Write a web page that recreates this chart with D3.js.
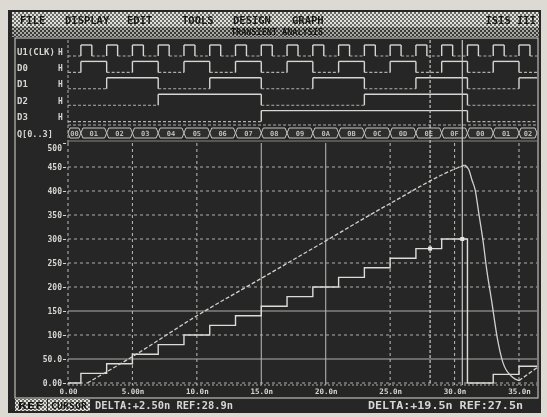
<!DOCTYPE html>
<html>
<head>
<meta charset="utf-8">
<script src="https://cdn.jsdelivr.net/npm/d3@7"></script>
<style>
    html, body { margin: 0; padding: 0; background: #dcdad2; }
    svg { display: block; }
</style>
</head>
<body>
<div id="screen"></div>
<script>

var menuItems = ["FILE", "DISPLAY", "EDIT", "TOOLS", "DESIGN", "GRAPH"];
var productName = "ISIS III";
var graphTitle = "TRANSIENT ANALYSIS";

var digitalNames = ["U1(CLK)", "D0", "D1", "D2", "D3"];
var digitalStates = ["H", "H", "H", "H", "H"];
var busName = "Q[0..3]";

// clock rising edges and pulse width, ns
var clockRiseNs = [1, 3, 5, 7, 9, 11, 13, 15, 17, 19, 21, 23, 25, 27, 29, 31, 33, 35];
var clockHighNs = 0.85;

// counter output Q[0..3] and the DAC staircase it drives
var countTimesNs = [0, 1, 3, 5, 7, 9, 11, 13, 15, 17, 19, 21, 23, 25, 27, 29, 31, 33, 35];
var countValues = [0, 1, 2, 3, 4, 5, 6, 7, 8, 9, 10, 11, 12, 13, 14, 15, 0, 1, 2];
var dacLevels = [0, 20, 40, 60, 80, 100, 120, 140, 160, 180, 200, 220, 240, 260, 280, 300, 0, 18, 35];

// ramp trace
var rampTimesNs = [1.5, 5, 10, 15, 20, 25, 30.4, 30.8, 31.1, 31.35, 31.6, 31.9, 32.2, 32.5, 32.9, 33.3, 33.76, 34.5, 35.0, 36.4];
var rampLevels = [0, 55, 140, 218, 296, 374, 450, 454, 445, 423, 402, 350, 298, 235, 167, 96, 42, 12, 5, 32];

var xTickValues = [0, 5, 10, 15, 20, 25, 30, 35];
var xTickLabels = ["0.00", "5.00n", "10.0n", "15.0n", "20.0n", "25.0n", "30.0n", "35.0n"];
var yTickValues = [0, 50, 100, 150, 200, 250, 300, 350, 400, 450, 500];
var yTickLabels = ["0.00", "50.0", "100", "150", "200", "250", "300", "350", "400", "450", "500"];

var cursorTimesNs = [28.1, 30.6];
var statusButtons = ["REF", "CURSOR"];
var statusLeft = "DELTA:+2.50n REF:28.9n";
var statusRight = "DELTA:+19.5n REF:27.5n";


function AnalyzerScreen() {

    var self = this;

    var font = "'DejaVu Sans Mono', monospace";
    var ink = "#d6d6d2";
    var grid = "#b0b0ac";

    self.x = d3.scaleLinear().domain([0, 35]).range([68, 519]);
    self.tEnd = self.x.invert(537);
    self.y = d3.scaleLinear().domain([0, 500]).range([383, 143]);
    self.rows = d3.scalePoint().domain(digitalNames.concat([busName])).range([51, 133]);

    self.init = function (containerId) {

        var svg = d3.select("#" + containerId).append("svg")
            .attr("width", 547)
            .attr("height", 417);

        var defs = svg.append("defs");
        self.addDither(defs, "ditherLight", "#e2e2dc", "#6a6a66");
        self.addDither(defs, "ditherDark", "#a8a8a4", "#3a3a38");

        defs.append("filter")
            .attr("id", "soft")
            .append("feGaussianBlur")
            .attr("stdDeviation", 0.35);

        var root = svg.append("g").attr("filter", "url(#soft)");

        self.drawFrame(root);
        self.drawMenu(root);
        self.drawDigital(root);
        self.drawAnalog(root);
        self.drawStatus(root);
    };

    self.addDither = function (defs, id, a, b) {
        var p = defs.append("pattern")
            .attr("id", id)
            .attr("width", 4)
            .attr("height", 4)
            .attr("patternUnits", "userSpaceOnUse");
        p.append("rect").attr("width", 4).attr("height", 4).attr("fill", b);
        p.append("rect").attr("width", 2).attr("height", 2).attr("fill", a);
        p.append("rect").attr("x", 2).attr("y", 2).attr("width", 2).attr("height", 2).attr("fill", a);
    };

    self.drawFrame = function (svg) {
        svg.append("rect")
            .attr("x", 8).attr("y", 10)
            .attr("width", 533).attr("height", 403)
            .attr("fill", "#252525");

        svg.append("rect")
            .attr("x", 15).attr("y", 38)
            .attr("width", 523).attr("height", 360)
            .attr("fill", "none")
            .attr("stroke", "#bdbdb8")
            .attr("stroke-width", 1.2);
    };

    self.drawMenu = function (svg) {
        svg.append("rect")
            .attr("x", 12).attr("y", 12)
            .attr("width", 527).attr("height", 15)
            .attr("fill", "url(#ditherLight)");
        svg.append("rect")
            .attr("x", 12).attr("y", 27)
            .attr("width", 527).attr("height", 10)
            .attr("fill", "url(#ditherDark)");

        var menuX = [20, 65, 127, 182, 233, 292];

        svg.selectAll(".menu")
            .data(menuItems)
            .enter()
            .append("text")
            .attr("class", "menu")
            .attr("x", function (d, i) { return menuX[i]; })
            .attr("y", 23.5)
            .style("font", "bold 10.5px " + font)
            .style("fill", "#151515")
            .text(function (d) { return d; });

        svg.append("text")
            .attr("x", 536).attr("y", 23.5)
            .attr("text-anchor", "end")
            .style("font", "bold 10.5px " + font)
            .style("fill", "#151515")
            .text(productName);

        svg.append("text")
            .attr("x", 277).attr("y", 35)
            .attr("text-anchor", "middle")
            .style("font", "bold 8.5px " + font)
            .style("fill", "#151515")
            .text(graphTitle);
    };

    self.levelSegments = function (times, levels) {
        var segs = [];
        for (var i = 0; i < times.length; i++) {
            if (times[i] >= self.tEnd) break;
            var t1 = i + 1 < times.length ? Math.min(times[i + 1], self.tEnd) : self.tEnd;
            var last = segs[segs.length - 1];
            if (last && last.level === levels[i]) {
                last.t1 = t1;
            } else {
                segs.push({t0: times[i], t1: t1, level: levels[i]});
            }
        }
        return segs;
    };

    self.clockSegments = function () {
        var times = [0];
        var levels = [0];
        clockRiseNs.forEach(function (r) {
            times.push(r, r + clockHighNs);
            levels.push(1, 0);
        });
        return self.levelSegments(times, levels);
    };

    self.drawDigital = function (svg) {

        var x = self.x;
        var g = svg.append("g");

        // left edge of trace area
        g.append("line")
            .attr("x1", x(0)).attr("x2", x(0))
            .attr("y1", 40).attr("y2", 143)
            .attr("stroke", grid)
            .attr("stroke-dasharray", "3,2");

        digitalNames.forEach(function (name, bit) {

            var cy = self.rows(name);
            var yHi = cy - 6;
            var yLo = cy + 5;

            var segs = bit === 0
                ? self.clockSegments()
                : self.levelSegments(countTimesNs, countValues.map(function (v) { return (v >> (bit - 1)) & 1; }));

            g.append("text")
                .attr("x", 17).attr("y", cy + 3.5)
                .style("font", "bold 9px " + font)
                .style("fill", ink)
                .text(name);

            g.append("text")
                .attr("x", 58).attr("y", cy + 3.5)
                .style("font", "bold 8px " + font)
                .style("fill", ink)
                .text(digitalStates[bit]);

            g.selectAll(null)
                .data(segs)
                .enter()
                .append("line")
                .attr("x1", function (d) { return x(d.t0); })
                .attr("x2", function (d) { return x(d.t1); })
                .attr("y1", function (d) { return d.level ? yHi : yLo; })
                .attr("y2", function (d) { return d.level ? yHi : yLo; })
                .attr("stroke", function (d) { return d.level ? ink : grid; })
                .attr("stroke-width", function (d) { return d.level ? 1.4 : 1.1; })
                .attr("stroke-dasharray", function (d) { return d.level ? null : "3,2"; });

            g.selectAll(null)
                .data(segs.slice(1))
                .enter()
                .append("line")
                .attr("x1", function (d) { return x(d.t0); })
                .attr("x2", function (d) { return x(d.t0); })
                .attr("y1", yHi).attr("y2", yLo)
                .attr("stroke", ink)
                .attr("stroke-width", 1.4);
        });

        // bus row
        var by = self.rows(busName);
        var top = by - 5, bot = by + 5;

        g.append("text")
            .attr("x", 17).attr("y", by + 3.5)
            .style("font", "bold 8.5px " + font)
            .style("fill", ink)
            .text(busName);

        g.append("line")
            .attr("x1", x(0)).attr("x2", 537)
            .attr("y1", top - 3).attr("y2", top - 3)
            .attr("stroke", grid)
            .attr("stroke-dasharray", "3,2");

        var busSegs = self.levelSegments(countTimesNs, countValues);

        var bus = g.selectAll(".bus")
            .data(busSegs)
            .enter()
            .append("g")
            .attr("class", "bus");

        bus.append("path")
            .attr("d", function (d) {
                var x0 = x(d.t0), x1 = x(d.t1);
                var k = Math.min(2, (x1 - x0) / 2);
                return "M" + x0 + "," + by + "L" + (x0 + k) + "," + top + "L" + (x1 - k) + "," + top +
                    "L" + x1 + "," + by + "L" + (x1 - k) + "," + bot + "L" + (x0 + k) + "," + bot + "Z";
            })
            .attr("fill", "#2e2e2d")
            .attr("stroke", "#c4c4c0")
            .attr("stroke-width", 1);

        bus.filter(function (d) { return x(d.t1) - x(d.t0) > 12; })
            .append("text")
            .attr("x", function (d) { return (x(d.t0) + x(d.t1)) / 2; })
            .attr("y", by + 2.5)
            .attr("text-anchor", "middle")
            .style("font", "bold 7px " + font)
            .style("fill", "#bcbcb8")
            .text(function (d) { return "0" + d.level.toString(16).toUpperCase(); });

        g.append("line")
            .attr("x1", x(0)).attr("x2", 537)
            .attr("y1", bot + 3).attr("y2", bot + 3)
            .attr("stroke", "#8a8a86");
    };

    self.drawAnalog = function (svg) {

        var x = self.x, y = self.y;
        var g = svg.append("g");

        var solidY = [50, 150];
        var solidX = [15, 20];

        g.selectAll(".hgrid")
            .data(yTickValues.slice(0, -1))
            .enter()
            .append("line")
            .attr("class", "hgrid")
            .attr("x1", x(0)).attr("x2", 537)
            .attr("y1", function (d) { return y(d); })
            .attr("y2", function (d) { return y(d); })
            .attr("stroke", grid)
            .attr("stroke-width", 1.1)
            .attr("stroke-dasharray", function (d) { return solidY.indexOf(d) >= 0 ? null : "3,3"; });

        g.selectAll(".vgrid")
            .data(xTickValues)
            .enter()
            .append("line")
            .attr("class", "vgrid")
            .attr("x1", function (d) { return x(d); })
            .attr("x2", function (d) { return x(d); })
            .attr("y1", y(500)).attr("y2", y(0) + 2)
            .attr("stroke", grid)
            .attr("stroke-width", 1.1)
            .attr("stroke-dasharray", function (d) { return solidX.indexOf(d) >= 0 ? null : "3,3"; });

        // cursors
        g.selectAll(".cursor")
            .data(cursorTimesNs)
            .enter()
            .append("line")
            .attr("class", "cursor")
            .attr("x1", function (d) { return x(d); })
            .attr("x2", function (d) { return x(d); })
            .attr("y1", 40).attr("y2", y(0) + 2)
            .attr("stroke", "#c8c8c4")
            .attr("stroke-width", 1.2)
            .attr("stroke-dasharray", function (d, i) { return i === 0 ? "3,2" : null; });

        // axes
        var yAxis = g.append("g")
            .attr("transform", "translate(" + (x(0) - 2) + ",0)")
            .call(d3.axisLeft(y)
                .tickValues(yTickValues)
                .tickFormat(function (d, i) { return yTickLabels[i]; })
                .tickSize(3)
                .tickPadding(1));
        yAxis.select(".domain").remove();
        yAxis.selectAll("line").attr("stroke", ink);
        yAxis.selectAll("text")
            .style("font", "bold 8px " + font)
            .style("fill", ink);
        yAxis.selectAll(".tick").filter(function (d) { return d === 500; })
            .select("text").attr("dy", "0.9em");

        var xAxis = g.append("g")
            .attr("transform", "translate(0," + (y(0) + 2) + ")")
            .call(d3.axisBottom(x)
                .tickValues(xTickValues)
                .tickFormat(function (d, i) { return xTickLabels[i]; })
                .tickSize(0)
                .tickPadding(4));
        xAxis.select(".domain")
            .attr("stroke", grid)
            .attr("stroke-dasharray", "2,2")
            .attr("d", "M" + x(0) + ",0H537");
        xAxis.selectAll("text")
            .style("font", "bold 7.5px " + font)
            .style("fill", ink);

        // staircase from the counter
        var stairs = countTimesNs.map(function (t, i) { return [t, dacLevels[i]]; });
        stairs.push([self.tEnd, dacLevels[dacLevels.length - 1]]);

        var stepLine = d3.line()
            .curve(d3.curveStepAfter)
            .x(function (d) { return x(d[0]); })
            .y(function (d) { return y(d[1]); });

        g.append("path")
            .datum(stairs)
            .attr("d", stepLine)
            .attr("fill", "none")
            .attr("stroke", "#dcdcd8")
            .attr("stroke-width", 1.4);

        // ramp: dashed rise, solid fall, dashed restart
        var ramp = rampTimesNs.map(function (t, i) { return [t, rampLevels[i]]; });
        var peak = d3.maxIndex(rampLevels);
        var trough = peak + d3.minIndex(rampLevels.slice(peak));

        var line = d3.line()
            .curve(d3.curveMonotoneX)
            .x(function (d) { return x(d[0]); })
            .y(function (d) { return y(d[1]); });

        var parts = [
            {pts: ramp.slice(0, peak + 1), dash: "4,2"},
            {pts: ramp.slice(peak, trough + 1), dash: null},
            {pts: ramp.slice(trough), dash: "4,2"}
        ];

        g.selectAll(".ramp")
            .data(parts)
            .enter()
            .append("path")
            .attr("class", "ramp")
            .attr("d", function (d) { return line(d.pts); })
            .attr("fill", "none")
            .attr("stroke", "#d0d0cc")
            .attr("stroke-width", 1.3)
            .attr("stroke-dasharray", function (d) { return d.dash; });

        // cursor markers on the staircase
        g.selectAll(".mark")
            .data(cursorTimesNs)
            .enter()
            .append("rect")
            .attr("class", "mark")
            .attr("x", function (d) { return x(d) - 2; })
            .attr("y", function (d) {
                var i = d3.bisectRight(countTimesNs, d) - 1;
                return y(dacLevels[i]) - 2;
            })
            .attr("width", 4).attr("height", 4)
            .attr("fill", "#e4e4e0");
    };

    self.drawStatus = function (svg) {
        var btnX = [15, 48];
        var btnW = [32, 42];

        var btn = svg.selectAll(".btn")
            .data(statusButtons)
            .enter()
            .append("g")
            .attr("class", "btn");

        btn.append("rect")
            .attr("x", function (d, i) { return btnX[i]; })
            .attr("y", 399)
            .attr("width", function (d, i) { return btnW[i]; })
            .attr("height", 12)
            .attr("fill", "url(#ditherLight)");

        btn.append("text")
            .attr("x", function (d, i) { return btnX[i] + 3; })
            .attr("y", 408.5)
            .attr("textLength", function (d, i) { return btnW[i] - 6; })
            .attr("lengthAdjust", "spacingAndGlyphs")
            .style("font", "bold 8.5px " + font)
            .style("fill", "#151515")
            .text(function (d) { return d; });

        svg.append("text")
            .attr("x", 95).attr("y", 409)
            .attr("textLength", 138)
            .attr("lengthAdjust", "spacingAndGlyphs")
            .style("font", "bold 10px " + font)
            .style("fill", ink)
            .text(statusLeft);

        svg.append("text")
            .attr("x", 368).attr("y", 409)
            .attr("textLength", 155)
            .attr("lengthAdjust", "spacingAndGlyphs")
            .style("font", "bold 10.5px " + font)
            .style("fill", ink)
            .text(statusRight);
    };
}

var screen = new AnalyzerScreen();
screen.init("screen");

</script>
</body>
</html>
